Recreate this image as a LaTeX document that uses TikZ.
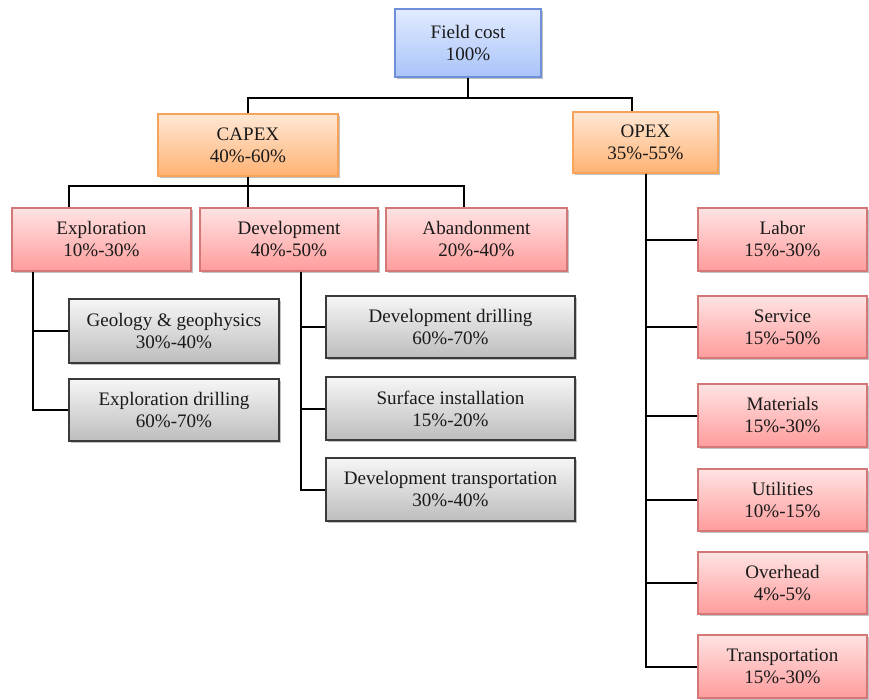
\documentclass[tikz,border=0pt]{standalone}
\usepackage{fontspec}
\setmainfont{Liberation Serif}
\usetikzlibrary{shadows,calc}
\definecolor{redtop}{HTML}{FFE3E3}
\definecolor{redbot}{HTML}{FF9C9C}
\definecolor{redline}{HTML}{D27878}
\definecolor{ortop}{HTML}{FFE8D6}
\definecolor{orbot}{HTML}{FFB272}
\definecolor{orline}{HTML}{F7A35A}
\definecolor{bltop}{HTML}{E2EBFF}
\definecolor{blbot}{HTML}{A9C3F9}
\definecolor{blline}{HTML}{6F8FD8}
\definecolor{grtop}{HTML}{F6F6F6}
\definecolor{grbot}{HTML}{BDBDBD}
\definecolor{grline}{HTML}{3A3A3A}
\definecolor{txt}{HTML}{1A1A1A}
\tikzset{
  sz/.style 2 args={minimum width=#1*0.75pt, minimum height=#2*0.75pt},
  basebox/.style={rectangle, inner sep=0pt, align=center, text=txt,
    font=\fontsize{14.3}{16.5}\selectfont, line width=0.9pt,
    drop shadow={shadow xshift=1.8pt, shadow yshift=-1.8pt, fill=black!40, opacity=0.6}},
  redbox/.style={basebox, draw=redline, top color=redtop, bottom color=redbot},
  orbox/.style={basebox, draw=orline, top color=ortop, bottom color=orbot},
  blbox/.style={basebox, draw=blline, top color=bltop, bottom color=blbot},
  grbox/.style={basebox, draw=grline, top color=grtop, bottom color=grbot},
  conn/.style={line width=1.5pt, black}
}
\begin{document}
\begin{tikzpicture}[x=0.75pt,y=-0.75pt]
\useasboundingbox (0,0) rectangle (869,700);
% nodes
\node[blbox, sz={146}{68}] (field) at (468,43) {Field cost\\100\%};
\node[orbox, sz={180}{62}] (capex) at (248,145) {CAPEX\\40\%-60\%};
\node[orbox, sz={145}{61}] (opex) at (645.5,142.5) {OPEX\\35\%-55\%};
\node[redbox, sz={179}{63}] (expl) at (101.5,239.5) {Exploration\\10\%-30\%};
\node[redbox, sz={178}{63}] (dev) at (289,239.5) {Development\\40\%-50\%};
\node[redbox, sz={181}{63}] (aband) at (476.5,239.5) {Abandonment\\20\%-40\%};
\node[grbox, sz={210}{64}] (geo) at (174,331) {Geology \& geophysics\\30\%-40\%};
\node[grbox, sz={210}{62}] (exdr) at (174,410) {Exploration drilling\\60\%-70\%};
\node[grbox, sz={249}{62}] (devdr) at (450.5,327) {Development drilling\\60\%-70\%};
\node[grbox, sz={249}{63}] (surf) at (450.5,408.5) {Surface installation\\15\%-20\%};
\node[grbox, sz={249}{63}] (devtr) at (450.5,489.5) {Development transportation\\30\%-40\%};
\node[redbox, sz={169}{63}] (labor) at (782.5,239.5) {Labor\\15\%-30\%};
\node[redbox, sz={169}{62}] (serv) at (782.5,327) {Service\\15\%-50\%};
\node[redbox, sz={169}{63}] (mat) at (782.5,415.5) {Materials\\15\%-30\%};
\node[redbox, sz={169}{62}] (util) at (782.5,500) {Utilities\\10\%-15\%};
\node[redbox, sz={169}{62}] (over) at (782.5,583) {Overhead\\4\%-5\%};
\node[redbox, sz={169}{63}] (trans) at (782.5,666.5) {Transportation\\15\%-30\%};
% junction coordinates
\coordinate (b0) at (field.south |- 0,98);
\coordinate (opexin) at (opex.north -| 632,0);
\coordinate (b1) at (capex.south |- 0,186);
\coordinate (explin) at (expl.north -| 69,0);
\coordinate (abin) at (aband.north -| 464,0);
\coordinate (devin) at (dev.north -| 248,0);
\coordinate (explout) at (expl.south -| 33,0);
\coordinate (devout) at (dev.south -| 301,0);
% connectors
\draw[conn] (field.south) -- (b0);
\draw[conn] (capex.north) |- (b0) -| (opexin);
\draw[conn] (capex.south) -- (b1);
\draw[conn] (explin) |- (b1) -| (abin);
\draw[conn] (b1) -- (devin);
\draw[conn] (explout) |- (geo.west);
\draw[conn] (explout) |- (exdr.west);
\draw[conn] (devout) |- (devdr.west);
\draw[conn] (devout) |- (surf.west);
\draw[conn] (devout) |- (devtr.west);
\draw[conn] (opex.south) |- (labor.west);
\draw[conn] (opex.south) |- (serv.west);
\draw[conn] (opex.south) |- (mat.west);
\draw[conn] (opex.south) |- (util.west);
\draw[conn] (opex.south) |- (over.west);
\draw[conn] (opex.south) |- (trans.west);
\end{tikzpicture}
\end{document}
